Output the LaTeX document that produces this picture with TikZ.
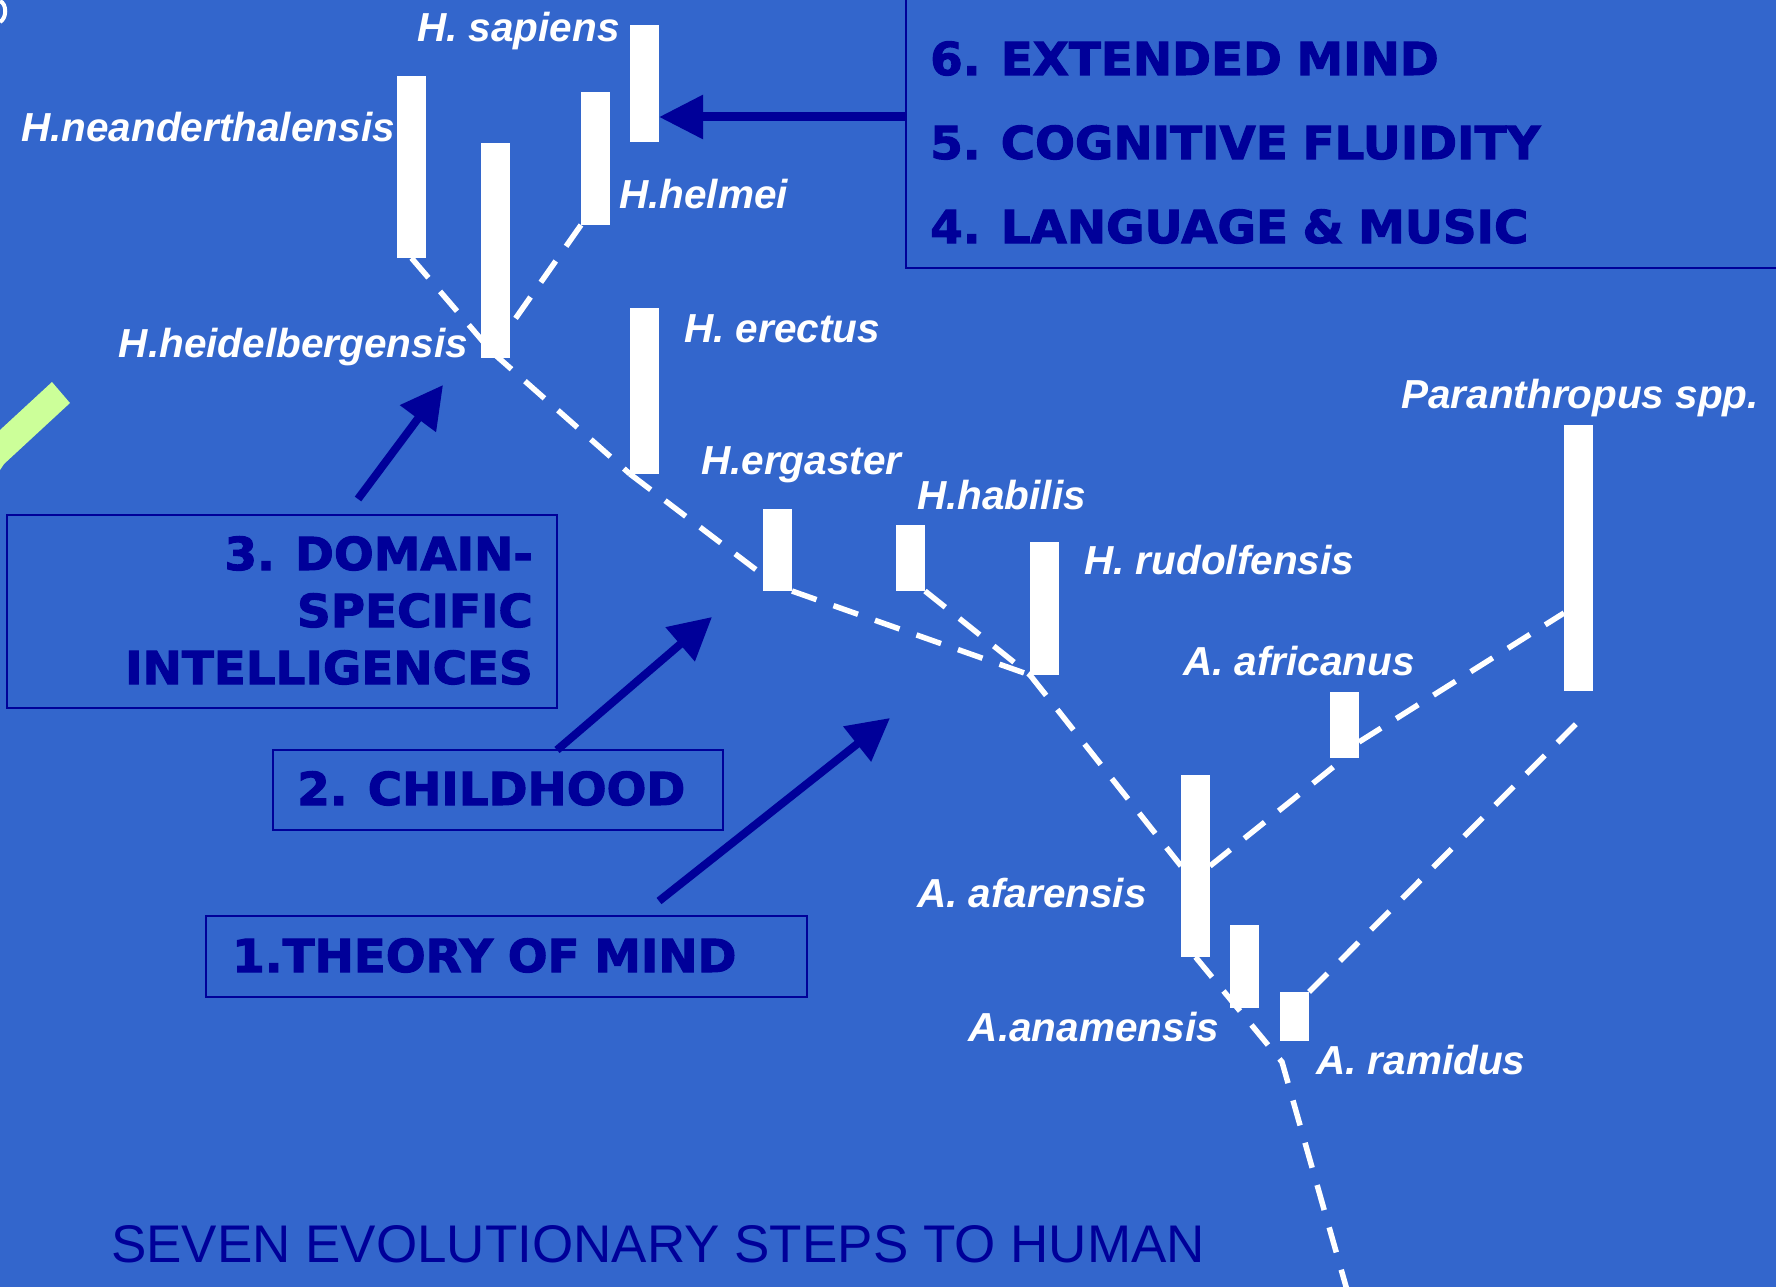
\documentclass[tikz,border=0pt]{standalone}
\usepackage{fontspec}
\setmainfont{Liberation Sans}
\newfontfamily\labfont{Liberation Sans}
\newfontfamily\heavyfont{DejaVu Sans}[FakeStretch=1.03,FakeBold=2.2,WordSpace=0.9]
\usetikzlibrary{arrows.meta,calc}
\definecolor{bgblue}{RGB}{51,102,204}
\definecolor{navy}{RGB}{0,0,153}
\definecolor{lgreen}{RGB}{204,255,153}
\begin{document}
\begin{tikzpicture}[x=1pt,y=-1pt,
  bar/.style={fill=white, inner sep=0pt, outer sep=0pt, minimum width=29pt, anchor=north west},
  lab/.style={text=white, inner sep=0pt, font=\labfont\bfseries\itshape\fontsize{40.5}{48}\selectfont},
  heavy/.style={text=navy, inner sep=0pt, font=\heavyfont\bfseries\fontsize{45.5}{56}\selectfont},
  box/.style={draw=navy, line width=2.5pt, inner sep=0pt, outer sep=0pt, anchor=north west},
  dline/.style={white, line width=5.5pt, dash pattern=on 26pt off 18pt},
  arr/.style={navy, line width=8pt, -{Triangle[length=42pt,width=43pt]}},
]
\fill[bgblue] (0,0) rectangle (1776,1287);
\useasboundingbox (0,0) rectangle (1776,1287);
\clip (0,0) rectangle (1776,1287);

% decorative fragments at the left edge
\fill[lgreen] (0,430) -- (52,382) -- (70,403) -- (4,464) -- (0,470) -- cycle;
\draw[white, line width=4pt] (0,1) .. controls (7,4) and (7,18) .. (0,22);

% bars (positions only, drawn later)
\path
  (630,25)   node[bar, minimum height=117pt, fill=none] (sap) {}
  (397,76)   node[bar, minimum height=182pt, fill=none] (nea) {}
  (481,143)  node[bar, minimum height=215pt, fill=none] (hei) {}
  (581,92)   node[bar, minimum height=133pt, fill=none] (hel) {}
  (630,308)  node[bar, minimum height=166pt, fill=none] (ere) {}
  (763,509)  node[bar, minimum height=82pt, fill=none] (erg) {}
  (896,525)  node[bar, minimum height=66pt, fill=none] (hab) {}
  (1030,542) node[bar, minimum height=133pt, fill=none] (rud) {}
  (1564,425) node[bar, minimum height=266pt, fill=none] (par) {}
  (1330,692) node[bar, minimum height=66pt, fill=none] (afr) {}
  (1181,775) node[bar, minimum height=182pt, fill=none] (afa) {}
  (1230,925) node[bar, minimum height=83pt, fill=none] (ana) {}
  (1280,992) node[bar, minimum height=49pt, fill=none] (ram) {};

% junctions and free ends
\coordinate (j3) at (492,352);
\coordinate (j1) at (1282,1062);
\coordinate (root) at (1347,1290);
\coordinate (ergin) at (763,575);
\coordinate (afrout) at (1359,742);
\coordinate (parin) at (1564,613);
\coordinate (parlow) at (1584,716);

% dashed phylogeny
\draw[dline] (nea.south) -- (j3);
\draw[dline] (hel.south west) -- (j3);
\draw[dline] (j3) -- (ere.south west);
\draw[dline] (ere.south west) -- (ergin);
\draw[dline] (erg.south east) -- (rud.south west);
\draw[dline] (hab.south east) -- (rud.south west);
\draw[dline] (rud.south west) -- (afa.west);
\draw[dline] (afa.south) -- (j1) -- (root);
\draw[dline] (afa.east) -- (afr.south);
\draw[dline] (afrout) -- (parin);
\draw[dline] (ram.north east) -- (parlow);

% bars drawn on top
\foreach \b in {sap,nea,hei,hel,ere,erg,hab,rud,par,afr,afa,ana,ram}
  \fill[white] (\b.north west) rectangle (\b.south east);

% species labels
\node[lab, anchor=base east] (lsap) at (620,42) {H. sapiens};
\node[lab, anchor=base east] (lnea) at (395,142) {H.neanderthalensis};
\node[lab, anchor=base west] (lhel) at (619,208) {H.helmei};
\node[lab, anchor=base east] (lhei) at (468,357) {H.heidelbergensis};
\node[lab, anchor=base west] (lere) at (684,342) {H. erectus};
\node[lab, anchor=base west] (lerg) at (701,474) {H.ergaster};
\node[lab, anchor=base west] (lhab) at (917,509) {H.habilis};
\node[lab, anchor=base west] (lrud) at (1084,574) {H. rudolfensis};
\node[lab, anchor=base west] (lpar) at (1401,408) {Paranthropus spp.};
\node[lab, anchor=base west] (lafr) at (1183,675) {A. africanus};
\node[lab, anchor=base east] (lafa) at (1147,907) {A. afarensis};
\node[lab, anchor=base east] (lana) at (1219,1041) {A.anamensis};
\node[lab, anchor=base west] (lram) at (1316,1074) {A. ramidus};

% boxes
\node[box, minimum width=894pt, minimum height=302pt] (ext) at (906,-34) {};
\node[box, minimum width=550pt, minimum height=193pt] (b3) at (7,515) {};
\node[box, minimum width=450pt, minimum height=80pt] (b2) at (273,750) {};
\node[box, minimum width=601pt, minimum height=81pt] (b1) at (206,916) {};

\node[heavy, anchor=base west] (t6) at (930,75) {6. EXTENDED MIND};
\node[heavy, anchor=base west] (t5) at (930,159) {5. COGNITIVE FLUIDITY};
\node[heavy, anchor=base west] (t4) at (930,243) {4. LANGUAGE \& MUSIC};
\node[heavy, anchor=base east] (t3a) at (533,570) {3. DOMAIN-};
\node[heavy, anchor=base east] (t3b) at (533,627) {SPECIFIC};
\node[heavy, anchor=base east] (t3c) at (533,684) {INTELLIGENCES};
\node[heavy, anchor=base west] (t2) at (297,805) {2. CHILDHOOD};
\node[heavy, anchor=base west] (t1) at (232,972) {1.THEORY OF MIND};

% arrows
\coordinate (a3t) at (358,499);
\coordinate (a3h) at (443,385);
\coordinate (a2t) at (557,750);
\coordinate (a2h) at (712,617);
\coordinate (a1t) at (659,901);
\coordinate (a1h) at (890,718);
\draw[arr, line width=9pt, -{Triangle[length=44pt,width=42pt]}] (ext.west) -- (sap.east |- ext.west);
\draw[arr] (a3t) -- (a3h);
\draw[arr] (a2t) -- (a2h);
\draw[arr] (a1t) -- (a1h);

% title
\node[anchor=base west, text=navy, inner sep=0pt, font=\fontsize{53}{60}\selectfont] (title) at (111,1262) {SEVEN EVOLUTIONARY STEPS TO HUMAN};
\end{tikzpicture}
\end{document}
